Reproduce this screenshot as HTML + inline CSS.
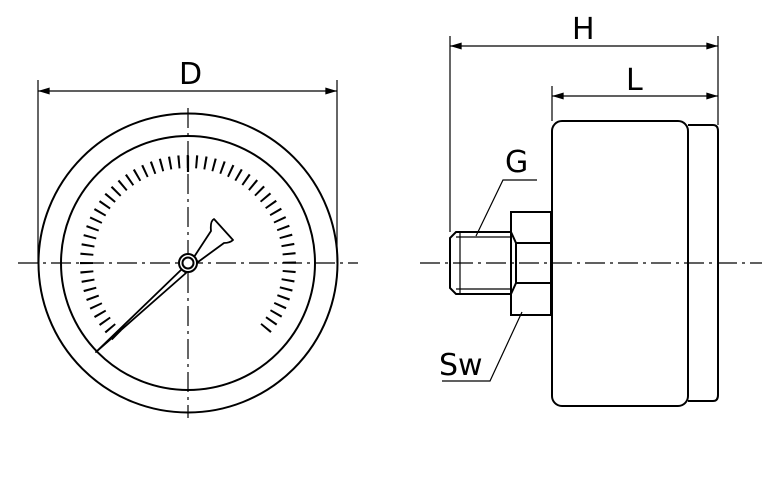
<!DOCTYPE html>
<html><head><style>body{margin:0;background:#fff}svg{display:block}</style></head><body>
<svg width="781" height="493" viewBox="0 0 781 493" xmlns="http://www.w3.org/2000/svg">
<defs><marker id="a" viewBox="0 0 10 6" refX="10" refY="3" markerWidth="14" markerHeight="7" orient="auto-start-reverse" markerUnits="userSpaceOnUse"><path d="M0,0L10,3L0,6z" fill="#000"/></marker></defs>
<g fill="none" stroke="#000">
<g stroke-width="1.2" stroke-dasharray="20,5,3,5">
<line x1="18" y1="263" x2="358" y2="263"/>
<line x1="188" y1="108" x2="188" y2="418"/>
<line x1="420" y1="263" x2="762" y2="263"/>
</g>
<circle cx="188" cy="263" r="149.5" stroke-width="2"/>
<circle cx="188" cy="263" r="127" stroke-width="2"/>
<path d="M117.49,336.01 A101.5,101.5 0 1 1 264.60,329.59" pathLength="267" stroke-width="13" stroke-dasharray="1.15 3.85" stroke-dashoffset="-0.42"/>
<line x1="188" y1="156" x2="188" y2="172" stroke-width="2.2"/>
<path d="M96,352 L182,269 L186,273 Z" fill="#fff" stroke-width="1.8" stroke-linejoin="round"/>
<path d="M194,257 L211,231 Q210,221 214,219 L233,240 Q230,243 224,243 L198,262 Z" fill="#fff" stroke-width="1.8" stroke-linejoin="round"/>
<circle cx="188" cy="263" r="9" fill="#fff" stroke-width="2"/>
<circle cx="188" cy="263" r="5.5" stroke-width="2"/>
<rect x="552" y="121" width="136" height="285" rx="10" stroke-width="2"/>
<path d="M688,125 H713 Q718,125 718,131 V395 Q718,401 713,401 H688" stroke-width="2"/>
<rect x="511" y="212" width="40" height="103" stroke-width="2"/>
<path d="M511,232 L516,243 L516,283 L511,294" stroke-width="2"/>
<path d="M516,243 H551 M516,283 H551" stroke-width="2"/>
<path d="M511,232 H456 L450,238 V288 L456,294 H511" stroke-width="2"/>
<path d="M460,232 V294 M456,237 H511 M456,289 H511" stroke-width="1.2"/>
<g stroke-width="1.2">
<line x1="38" y1="80" x2="38" y2="263"/><line x1="337" y1="80" x2="337" y2="263"/>
<line x1="38" y1="91" x2="337" y2="91" marker-start="url(#a)" marker-end="url(#a)"/>
<line x1="450" y1="36" x2="450" y2="232"/><line x1="718" y1="36" x2="718" y2="125"/>
<line x1="450" y1="46" x2="718" y2="46" marker-start="url(#a)" marker-end="url(#a)"/>
<line x1="552" y1="86" x2="552" y2="121"/>
<line x1="552" y1="96" x2="718" y2="96" marker-start="url(#a)" marker-end="url(#a)"/>
<path d="M537,180 H503 L476,236"/>
<path d="M442,381 H490 L522,312"/>
</g>
</g>
<g font-family="DejaVu Sans, sans-serif" font-size="30" fill="#000">
<text x="179" y="84">D</text>
<text x="572" y="39">H</text>
<text x="626" y="90">L</text>
<text x="505" y="172">G</text>
<text x="439" y="375">Sw</text>
</g>
</svg>
</body></html>
